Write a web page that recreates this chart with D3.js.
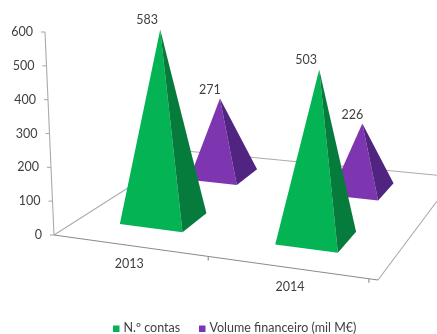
<!DOCTYPE html>
<html><head><meta charset="utf-8">
<script src="https://cdn.jsdelivr.net/npm/d3@7"></script>
<style>
html,body{margin:0;padding:0;background:#fff}
svg{display:block;filter:blur(0.35px)}
text{font-family:Lato,"Open Sans",sans-serif;fill:#404040;font-size:12.5px}
</style></head><body>
<script>
const categories = ["2013", "2014"];
const seriesNames = ["N.º contas", "Volume financeiro (mil M€)"];
const contas = [583, 503];
const volume = [271, 226];
const yTicks = [0, 100, 200, 300, 400, 500, 600];

const W = 437, H = 334;
const svg = d3.select("body").append("svg").attr("width", W).attr("height", H);

// floor corners
const FL = [54, 235], FR = [378, 280], BL = [186, 151], BR = [455, 177];
const floor = (u, v) => d3.interpolate(
  d3.interpolate(FL, FR)(u), d3.interpolate(BL, BR)(u))(v);

const u = d3.scaleBand().domain(categories).range([-0.02, 0.972]);
const v = d3.scalePoint().domain(seriesNames).range([0.3, 0.8]);
const y = d3.scaleLinear().domain([0, 600]).range([235, 32]);
const perspective = d3.scaleLinear().domain([0.3, 0.8]).range([0.96, 0.83]);
const perspectiveU = d3.scaleLinear().domain([0.228, 0.724]).range([0, 0.032]);
const axisX = py => 54 - (235 - py) * 9 / 203;

const style = {
  [seriesNames[0]]: {front: "#03B354", side: "#067C3C", hu: 0.1, hv: 0.105, lean: [-3.5, 3], dx: -13, dy: -9},
  [seriesNames[1]]: {front: "#7E36B0", side: "#512482", hu: 0.084, hv: 0.088, lean: [-3.5, 0], dx: -10, dy: -8}
};

// floor + axes
const clip = svg.append("g");
const grey = "#ababab";
const edge = (a, b, c = grey) => clip.append("line")
  .attr("x1", a[0]).attr("y1", a[1]).attr("x2", b[0]).attr("y2", b[1])
  .attr("stroke", c).attr("stroke-width", 1.1);
edge(FL, BL); edge(BL, BR); edge(BR, FR); edge(FL, FR, "#8c8c8c");

// y axis, the ticks leaning with the wall
const yAxis = svg.append("g").call(d3.axisLeft(y).tickValues(yTicks).tickSize(4).tickPadding(8));
yAxis.select(".domain").remove();
yAxis.selectAll(".tick").attr("transform", d => `translate(${axisX(y(d))},${y(d)})`);
yAxis.selectAll(".tick line").attr("stroke", grey).attr("stroke-width", 1.1);
yAxis.selectAll(".tick text").style("font-family", "Lato,sans-serif").style("font-size", "12.5px").attr("fill", "#404040");
yAxis.attr("font-size", null);
svg.append("line").attr("x1", axisX(y(600))).attr("y1", y(600)).attr("x2", axisX(y(0))).attr("y2", y(0))
  .attr("stroke", grey).attr("stroke-width", 1.1);

// category ticks and labels
const catEdges = [u("2014"), u.range()[1]];
catEdges.forEach(t => {
  const p = floor(t, 0);
  edge(p, [p[0], p[1] + 4], "#8c8c8c");
});
svg.selectAll(".cat").data(categories).join("text").attr("class", "cat")
  .attr("text-anchor", "middle")
  .attr("x", d => floor(u(d) + u.bandwidth() / 2, 0)[0] + 1.5)
  .attr("y", d => floor(u(d) + u.bandwidth() / 2, 0)[1] + 23)
  .text(d => d);

// pyramids, back row first
const rows = [[seriesNames[1], volume], [seriesNames[0], contas]];
rows.forEach(([name, vals]) => {
  const s = style[name];
  const g = svg.append("g");
  categories.forEach((c, i) => {
    const cu = u(c) + u.bandwidth() / 2, cv = v(name);
    const a = floor(cu - s.hu, cv - s.hv), b = floor(cu + s.hu, cv - s.hv), e = floor(cu + s.hu, cv + s.hv);
    const centre = floor(cu, cv);
    const h = (y(0) - y(vals[i])) * (perspective(cv) + perspectiveU(cu));
    const apex = [centre[0] + s.lean[i], centre[1] - h];
    const line = d3.line();
    g.append("path").attr("d", line([a, b, apex]) + "Z").attr("fill", s.front);
    g.append("path").attr("d", line([b, e, apex]) + "Z").attr("fill", s.side);
    svg.append("text").attr("class", "lab").attr("text-anchor", "middle")
      .attr("x", apex[0] + s.dx).attr("y", apex[1] + s.dy + 4).text(vals[i]);
  });
});
svg.selectAll(".lab").raise();

// legend
const legend = [{n: seriesNames[0], x: 113}, {n: seriesNames[1], x: 199}];
legend.forEach(l => {
  svg.append("rect").attr("x", l.x).attr("y", 325.5).attr("width", 6.5).attr("height", 6.5).attr("fill", style[l.n].front);
  svg.append("text").attr("x", l.x + 10.5).attr("y", 332).text(l.n);
});
</script></body></html>
